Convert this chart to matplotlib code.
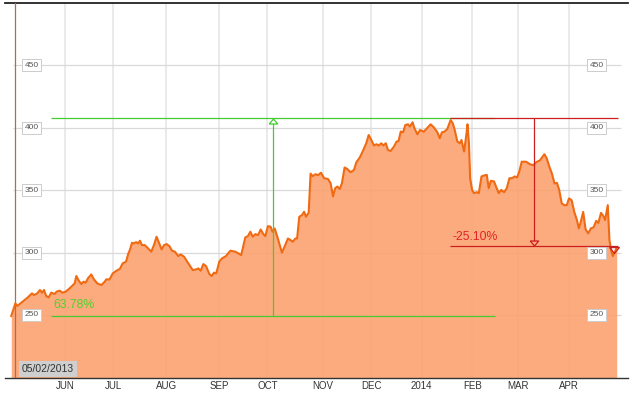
import matplotlib.pyplot as plt
import matplotlib.transforms as mtransforms

# trading-day index (0 = 05/02/2013) and closing price
day = [-1.3, 0.4, 1.2, 2.9, 5.6, 7.3, 8.1, 9.5, 10.6, 11.5, 12.3, 13.2, 14.2, 15.3,
       16.7, 17.5, 18.8, 19.9, 21.3, 22.9, 25.0, 25.7, 26.7, 27.8, 28.7, 29.6, 30.5,
       31.9, 33.0, 34.4, 36.1, 37.5, 38.1, 39.5, 40.8, 42.4, 43.8, 44.9, 46.3, 47.3,
       48.0, 48.8, 49.6, 50.5, 51.3, 52.1, 52.9, 54.1, 55.1, 56.8, 57.9, 59.0, 60.1,
       61.1, 62.1, 63.2, 64.3, 65.4, 66.6, 68.0, 69.0, 70.4, 71.7, 72.9, 74.0, 75.4,
       76.3, 77.3, 78.4, 79.5, 80.9, 81.9, 82.8, 83.7, 84.2, 85.0, 86.1, 87.8, 89.6,
       91.7, 93.0, 94.1, 95.8, 96.9, 97.9, 98.9, 100.0, 101.1, 102.2, 103.3, 104.1,
       105.2, 106.3, 107.1, 108.0, 109.1, 110.1, 111.0, 112.2, 113.5, 114.6, 115.5,
       116.6, 117.3, 118.2, 119.3, 120.2, 121.0, 122.1, 122.9, 123.8, 124.9, 126.0,
       127.2, 128.5, 130.1, 131.2, 132.2, 133.1, 134.0, 135.0, 135.9, 137.0, 138.1,
       139.5, 140.9, 141.9, 143.3, 144.6, 146.0, 147.0, 148.1, 149.2, 150.2, 151.2,
       152.2, 153.1, 154.1, 155.0, 156.1, 157.5, 158.6, 159.4, 160.3, 161.3, 162.2,
       163.3, 164.1, 165.2, 166.0, 167.2, 168.3, 169.9, 171.2, 172.7, 174.1, 175.5,
       176.5, 177.4, 178.5, 179.6, 181.0, 181.9, 182.7, 183.8, 184.8, 185.5, 186.6,
       187.6, 188.0, 188.6, 189.1, 189.9, 190.7, 191.9, 192.7, 193.8, 194.9, 196.0,
       196.8, 197.7, 199.0, 200.1, 201.0, 202.0, 203.2, 204.3, 205.4, 206.5, 207.6,
       208.6, 209.5, 210.5, 212.3, 213.9, 215.3, 216.7, 218.1, 219.9, 220.9, 221.9,
       223.0, 224.1, 225.1, 226.0, 227.1, 228.2, 229.2, 230.1, 231.2, 232.3, 233.4,
       234.2, 235.0, 236.0, 237.0, 238.1, 239.2, 240.3, 241.4, 242.3, 243.4, 244.4,
       245.1, 246.2, 246.9, 247.6, 248.3, 249.2, 249.9]
close = [249.2, 259.3, 257.2, 259.9, 264.1, 267.3, 266.0, 267.3, 270.0, 267.9, 270.0,
         265.2, 264.1, 267.9, 266.8, 268.7, 269.5, 267.9, 268.7, 271.3, 275.3, 281.2,
         277.5, 274.8, 276.7, 275.9, 279.3, 282.5, 278.5, 275.3, 274.0, 276.7, 278.5,
         278.5, 283.3, 285.5, 287.0, 291.3, 292.7, 299.3, 302.5, 307.9, 307.3, 308.4,
         307.3, 309.5, 306.0, 306.0, 304.1, 300.7, 306.0, 312.7, 307.3, 302.5, 306.0,
         306.8, 305.2, 301.5, 300.7, 297.2, 298.5, 296.7, 292.7, 289.2, 286.0, 286.5,
         287.3, 285.5, 290.8, 289.2, 282.8, 281.2, 283.9, 283.3, 286.5, 292.7, 295.3,
         297.2, 301.5, 300.7, 299.3, 298.0, 312.1, 313.2, 316.7, 312.7, 314.8, 314.0,
         318.5, 314.8, 313.2, 321.2, 320.7, 316.7, 319.3, 312.7, 306.0, 299.9, 305.2,
         311.3, 310.0, 308.7, 311.3, 311.3, 328.7, 330.0, 332.7, 328.7, 331.9, 363.3,
         361.2, 362.8, 362.0, 364.0, 359.6, 359.0, 355.6, 345.0, 351.6, 352.9, 351.0,
         355.6, 368.2, 367.0, 364.4, 366.2, 372.4, 376.2, 381.4, 387.6, 394.2, 390.2,
         385.8, 386.8, 385.8, 387.6, 385.8, 387.6, 382.2, 381.4, 385.0, 389.0, 389.4,
         397.0, 396.4, 402.2, 402.8, 401.0, 404.4, 399.6, 394.8, 398.2, 396.9, 399.6,
         402.8, 400.2, 396.4, 391.6, 396.4, 397.0, 399.0, 406.2, 403.6, 398.2, 389.0,
         387.6, 390.2, 381.0, 395.6, 402.8, 387.6, 359.6, 350.2, 347.6, 348.4, 347.6,
         361.0, 361.8, 362.3, 351.6, 357.5, 357.0, 351.6, 347.6, 350.2, 348.4, 351.6,
         359.6, 359.6, 361.0, 360.2, 365.0, 372.8, 372.8, 370.8, 370.0, 372.6, 374.0,
         378.8, 375.4, 369.2, 363.4, 355.4, 355.9, 350.6, 339.4, 338.0, 338.0, 343.4,
         342.0, 332.6, 326.0, 319.4, 324.6, 332.6, 318.6, 315.4, 319.4, 320.2, 325.4,
         323.8, 331.8, 329.2, 326.0, 338.0, 310.0, 302.0, 297.2, 300.7, 304.1]

months = ['JUN', 'JUL', 'AUG', 'SEP', 'OCT', 'NOV', 'DEC', '2014', 'FEB', 'MAR', 'APR']
month_day = [21, 41, 63, 85, 105, 128, 148, 169, 190, 209, 230]
price_ticks = [250, 300, 350, 400, 450]

start_label = '05/02/2013'
low_2013 = 249.0
high_2014 = 407.7
last_low = 305.4
gain_label = '63.78%'
drop_label = '-25.10%'

plt.rcParams['font.family'] = ['Liberation Sans', 'DejaVu Sans']

fig = plt.figure(figsize=(6.32, 3.94), dpi=100)
ax = fig.add_axes([0.0079, 0.0406, 0.9858, 0.9518])
ax.set_xlim(-3.9, 254.6)
ax.set_ylim(199.5, 500)

# frame
for side in ['left', 'right']:
    ax.spines[side].set_visible(False)
ax.spines['top'].set_color('#222222')
ax.spines['top'].set_linewidth(1.3)
ax.spines['bottom'].set_color('#333333')
ax.spines['bottom'].set_linewidth(1.0)

# month ticks / vertical grid
ax.set_xticks(month_day)
ax.set_xticklabels(months, fontsize=7, color='#333333')
ax.tick_params(axis='x', length=0, pad=2.5)
ax.set_yticks([])
ax.grid(axis='x', color='#e6e6e6', lw=1.2)
ax.set_axisbelow(True)
ax.hlines(price_ticks, -0.6, 251.7, color='#d9d9d9', lw=0.9, zorder=1)

# price area
ax.fill_between(day, close, 199.5, color='#fca270', alpha=0.9, lw=0, zorder=2)
ax.plot(day, close, color='#f06a12', lw=1.5, zorder=4)
ax.axvline(0.4, color='#b86a45', lw=0.9, zorder=3)

# gain annotation (green)
green = '#45cc33'
ax.hlines([low_2013, high_2014], 15.2, 199.4, color=green, lw=0.9, zorder=5)
ax.vlines(107.4, low_2013, high_2014 - 3.5, color=green, lw=0.9, zorder=5)
up_tri = [(-1, -0.6), (1, -0.6), (0, 0.6), (-1, -0.6)]
down_tri = [(-1, 0.6), (1, 0.6), (0, -0.6), (-1, 0.6)]
ax.plot([107.4], [high_2014 - 2.2], marker=up_tri, ms=6, mfc='white', mec=green,
        mew=0.9, zorder=6)
ax.text(16.0, 258, gain_label, color='#4fd22c', fontsize=8.8, va='center', zorder=6)

# drop annotation (red)
red = '#cc1f1f'
ax.hlines([high_2014, last_low], 180.7, 250.5, color=red, lw=0.9, zorder=5)
ax.vlines(215.7, last_low + 3.5, high_2014, color=red, lw=0.9, zorder=5)
ax.plot([215.7], [last_low + 2.2], marker=down_tri, ms=6, mfc='none', mec=red,
        mew=0.9, zorder=6)
ax.plot([248.6], [last_low - 3.4], marker=down_tri, ms=7, mfc='none', mec=red,
        mew=0.9, zorder=6)
ax.text(181.6, 312.6, drop_label, color='#e02424', fontsize=8.8, va='center', zorder=6)

# boxed price labels on both sides
trans = mtransforms.blended_transform_factory(ax.transAxes, ax.transData)
for v in price_ticks:
    for xa in [0.043, 0.95]:
        ax.text(xa, v, str(v), transform=trans, ha='center', va='center',
                fontsize=6, color='#555555', zorder=7,
                bbox=dict(boxstyle='square,pad=0.3', fc='white', ec='#cccccc', lw=0.7))

# start date tag
ax.text(0.069, 0.024, start_label, transform=ax.transAxes, ha='center', va='center',
        fontsize=7.5, color='#333333', zorder=7,
        bbox=dict(boxstyle='square,pad=0.25', fc='#cfcfcf', ec='none'))

fig.savefig('out.png', dpi=100)
